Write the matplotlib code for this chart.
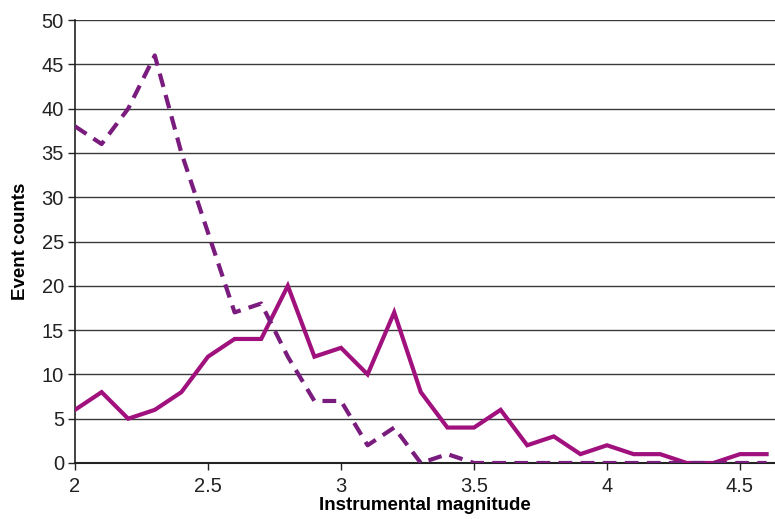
import numpy as np
import matplotlib.pyplot as plt

plt.rcParams['font.family'] = ['Liberation Sans', 'DejaVu Sans']

# Instrumental magnitude bins
magnitude = [2.0, 2.1, 2.2, 2.3, 2.4, 2.5, 2.6, 2.7, 2.8, 2.9, 3.0, 3.1, 3.2, 3.3,
             3.4, 3.5, 3.6, 3.7, 3.8, 3.9, 4.0, 4.1, 4.2, 4.3, 4.4, 4.5, 4.6]
counts_solid = [6, 8, 5, 6, 8, 12, 14, 14, 20, 12, 13, 10, 17, 8,
                4, 4, 6, 2, 3, 1, 2, 1, 1, 0, 0, 1, 1]
counts_dashed = [38, 36, 40, 46, 35, 26, 17, 18, 12, 7, 7, 2, 4, 0,
                 1, 0, 0, 0, 0, 0, 0, 0, 0, 0, 0, 0, 0]

y_ticks = list(range(0, 51, 5))
x_ticks = [2, 2.5, 3, 3.5, 4, 4.5]
x_tick_labels = ['2', '2.5', '3', '3.5', '4', '4.5']

fig = plt.figure(figsize=(7.75, 5.19), dpi=100)
ax = fig.add_axes([75 / 775, 56 / 519, 700 / 775, 443 / 519])

# Gridlines
for y in y_ticks[1:]:
    ax.axhline(y, color='#3a3a3a', linewidth=1.0, zorder=1)

ax.plot(magnitude, counts_solid, color='#a0117e', linewidth=3.0,
        solid_joinstyle='miter', zorder=3)
ax.plot(magnitude, counts_dashed, color='#7a1c7e', linewidth=3.0,
        linestyle=(0, (3.3, 2.0)), zorder=3)

ax.set_xlim(2, 2 + 700 / 266)
ax.set_ylim(0, 50)
ax.set_yticks(y_ticks)
ax.set_xticks(x_ticks)
ax.set_xticklabels(x_tick_labels)

for side in ['top', 'right']:
    ax.spines[side].set_visible(False)
ax.spines['left'].set_color('#222222')
ax.spines['bottom'].set_color('#222222')
ax.spines['left'].set_linewidth(1.2)
ax.spines['bottom'].set_linewidth(1.5)

ax.tick_params(axis='both', direction='out', length=5, width=1.0,
               color='#222222', labelsize=14.5, labelcolor='#222222')
ax.tick_params(axis='x', pad=5)
ax.tick_params(axis='y', pad=3)

ax.set_ylabel('Event counts', fontsize=13.5, fontweight='bold', labelpad=9)
ax.set_xlabel('Instrumental magnitude', fontsize=13.5, fontweight='bold', labelpad=1)

fig.savefig('out.png', dpi=100)
